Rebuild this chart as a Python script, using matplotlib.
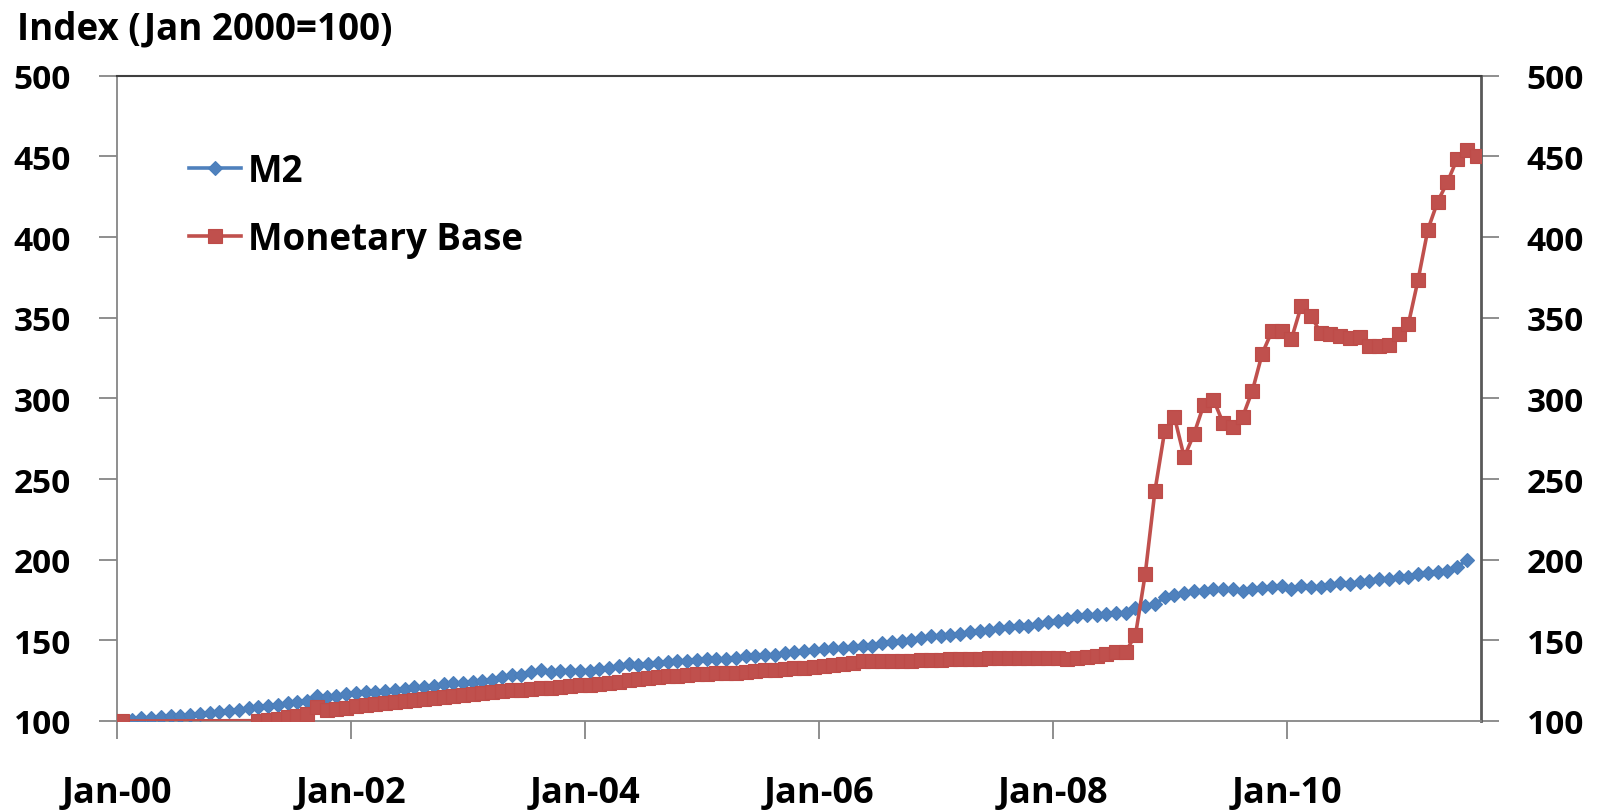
import numpy as np
import matplotlib
matplotlib.use("Agg")
import matplotlib.pyplot as plt

plt.rcParams['font.family'] = ['Open Sans', 'DejaVu Sans']
plt.rcParams['font.weight'] = 'bold'

# Monthly index values, Jan 2000 = 100
m2 = [
    100.0, 100.8, 101.6, 102.1, 102.3, 102.9, 103.3, 103.7, 104.3, 105.0, 105.8, 106.4,   # 2000
    107.0, 107.8, 108.9, 109.5, 110.1, 111.0, 112.0, 112.6, 115.7, 114.9, 115.3, 116.7,   # 2001
    117.2, 117.8, 118.2, 118.8, 119.2, 119.8, 120.9, 121.3, 121.9, 122.9, 123.4, 123.6,   # 2002
    124.0, 125.0, 125.6, 127.1, 128.3, 128.5, 130.6, 131.6, 130.6, 131.2, 131.2, 131.2,   # 2003
    131.2, 132.2, 132.6, 134.3, 135.3, 134.7, 135.3, 136.0, 136.4, 137.0, 137.4, 138.0,   # 2004
    138.2, 138.3, 138.4, 138.9, 140.1, 140.5, 140.9, 140.9, 142.2, 142.6, 143.2, 144.0,   # 2005
    144.6, 145.1, 145.3, 145.7, 146.3, 146.7, 148.4, 148.8, 149.4, 150.4, 151.2, 152.5,   # 2006
    152.9, 153.3, 153.9, 155.4, 156.0, 156.4, 157.5, 158.1, 158.7, 159.1, 160.1, 161.2,   # 2007
    161.8, 163.2, 164.9, 165.7, 165.9, 166.3, 166.8, 167.0, 169.9, 171.1, 172.5, 176.7,   # 2008
    178.1, 179.4, 180.8, 180.8, 181.8, 181.8, 181.8, 180.8, 181.8, 182.2, 183.3, 183.9,   # 2009
    181.8, 183.9, 182.9, 182.9, 184.3, 185.4, 184.7, 186.4, 187.0, 188.0, 188.0, 189.1,   # 2010
    189.5, 191.1, 191.6, 192.6, 193.2, 195.3, 200.0,                                      # 2011
]

nan = np.nan
monetary_base = [
    100.0, nan, nan, nan, nan, nan, nan, nan, nan, nan, nan, nan,                          # 2000
    nan, nan, 100.2, 100.8, 101.4, 102.2, 103.2, 104.4, 108.6, 106.6, 107.2, 108.2,       # 2001
    109.4, 110.0, 110.6, 111.3, 112.0, 112.6, 113.2, 113.8, 114.4, 115.0, 115.6, 116.2,   # 2002
    116.7, 117.5, 118.2, 118.9, 119.2, 119.5, 119.9, 120.3, 120.6, 121.1, 121.6, 122.1,   # 2003
    122.6, 123.0, 123.5, 124.0, 125.2, 126.3, 126.8, 127.2, 127.7, 128.2, 128.6, 129.0,   # 2004
    129.3, 129.5, 129.6, 129.8, 130.2, 130.9, 131.4, 131.9, 132.4, 132.7, 133.0, 133.7,   # 2005
    134.4, 135.0, 135.5, 136.2, 136.9, 137.0, 137.1, 137.2, 137.3, 137.5, 137.6, 137.8,   # 2006
    138.0, 138.2, 138.4, 138.5, 138.6, 138.8, 139.0, 139.1, 139.2, 139.3, 139.3, 139.2,   # 2007
    138.9, 138.5, 138.8, 139.5, 140.5, 141.5, 142.6, 143.0, 153.3, 191.1, 242.8, 280.0,   # 2008
    288.3, 263.5, 277.9, 295.9, 299.2, 284.6, 282.5, 288.7, 304.8, 327.7, 341.6, 341.6,   # 2009
    336.8, 357.1, 351.3, 340.5, 339.9, 338.9, 337.4, 337.9, 332.7, 332.3, 333.1, 339.9,   # 2010
    346.1, 373.6, 404.6, 421.9, 434.0, 448.4, 454.0, 450.5,                               # 2011
]

tick_labels = ["Jan-00", "Jan-02", "Jan-04", "Jan-06", "Jan-08", "Jan-10"]
y_ticks = [100, 150, 200, 250, 300, 350, 400, 450, 500]

BLUE = "#4F81BD"
RED = "#C0504D"
AXIS_GREY = "#868686"

# months since Jan 2000, observations placed mid-month
x_m2 = np.arange(len(m2)) + 0.5
mb = np.array(monetary_base)
x_mb = np.arange(len(mb)) + 0.5
valid = ~np.isnan(mb)

fig = plt.figure(figsize=(15.97, 8.12), dpi=100)
ax = fig.add_axes([117 / 1597, 1 - 722 / 812, (1481 - 117) / 1597, (722 - 76.7) / 812])

ax.plot(x_m2, m2, color=BLUE, lw=2.6, marker="D", ms=7.0,
        mfc=BLUE, mec="#4A7EBB", mew=0.8, label="M2", zorder=3)
ax.plot(x_mb[valid], mb[valid], color=RED, lw=2.6, marker="s", ms=10,
        mfc=RED, mec="#BE4B48", mew=0.8, label="Monetary Base", zorder=4)

ax.set_xlim(0, 139.95)
ax.set_ylim(100, 500)
ax.set_xticks(np.arange(len(tick_labels)) * 24)
ax.set_xticklabels(tick_labels)
ax.set_yticks(y_ticks)

ax.tick_params(axis="x", direction="out", length=13, width=1.3, color=AXIS_GREY,
               labelsize=26, pad=26)
ax.tick_params(axis="y", direction="out", length=13, width=1.3, color=AXIS_GREY,
               labelsize=24, pad=20, right=True, labelright=True)

for side in ("left", "bottom"):
    ax.spines[side].set_color(AXIS_GREY)
    ax.spines[side].set_linewidth(1.3)
ax.spines["right"].set_color("#595959")
ax.spines["right"].set_linewidth(2.0)
ax.spines["top"].set_color("#3F3F3F")
ax.spines["top"].set_linewidth(1.5)

for lbl in ax.get_xticklabels() + ax.get_yticklabels():
    lbl.set_fontweight("bold")

leg = ax.legend(loc="upper left", bbox_to_anchor=(0.042, 0.905), frameon=False,
                fontsize=26.5, numpoints=1, handlelength=1.42, handletextpad=0.18,
                labelspacing=0.82, borderaxespad=0)
for t in leg.get_texts():
    t.set_fontweight("bold")

fig.text(17 / 1597, 1 - 39.5 / 812, "Index (Jan 2000=100)", fontsize=26.5,
         fontweight="bold", ha="left", va="baseline")

fig.savefig("out.png", dpi=100, facecolor="white")
